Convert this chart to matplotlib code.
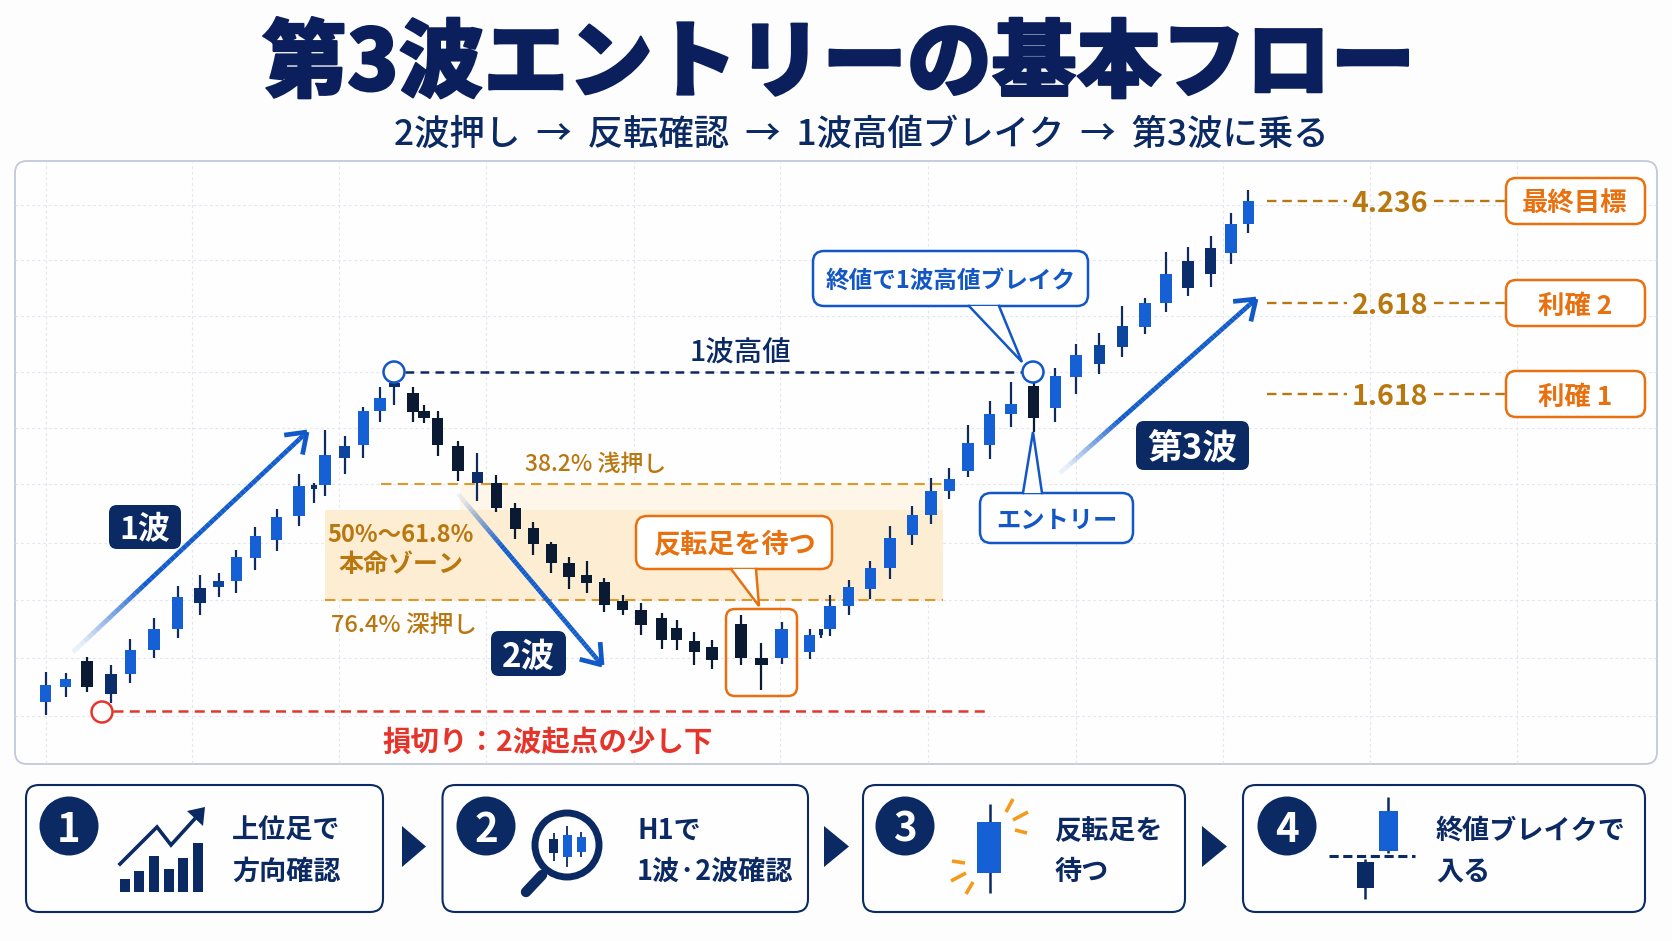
#!/usr/bin/env python3
import numpy as np
import matplotlib
matplotlib.use('Agg')
import matplotlib.pyplot as plt
from matplotlib.patches import FancyBboxPatch, Polygon, Circle, Rectangle
from matplotlib.collections import LineCollection
import matplotlib.patheffects as pe

plt.rcParams['font.family'] = ['Noto Sans CJK JP', 'DejaVu Sans']

candle_x = [45.7, 65.7, 87, 111, 130.3, 154, 177.7, 200, 218.7, 236.3, 255.3, 276.7, 299, 314, 325, 344.7,
            363.3, 380, 394.3, 413, 424, 437.7, 458, 477.3, 496.3, 515.3, 533.3, 551.3, 569, 586.7, 604.3,
            622.7, 641, 661.7, 676.7, 694.3, 712, 741, 761.3, 781.7, 809.7, 821.3, 830, 848.7, 870.3, 890,
            912.3, 931, 949.3, 968, 989.7, 1011, 1033.7, 1055.3, 1076, 1099.3, 1122.3, 1145, 1166, 1188,
            1210.7, 1231, 1248.3]
candle_high = [93.3, 92.3, 108, 100, 125.7, 147.3, 179, 190, 192.3, 215, 238.3, 255.7, 291, 281.7, 335, 329,
               357.7, 378.3, 383.3, 377.7, 360, 354.3, 324.3, 311.7, 289.7, 261.7, 243.3, 223, 208.3, 204.3, 187,
               169.7, 162.3, 152.3, 145, 132.7, 125, 150, 121.7, 142.7, 136.3, 136.3, 170.3, 185, 204.3, 239.3,
               259, 287, 297.3, 340.3, 363.7, 382.7, 388.3, 397.3, 421.3, 432, 459, 467.3, 513.3, 518.3,
               528.7, 552.3, 575]
candle_top = [80, 86, 104, 91, 115, 135.7, 167.7, 177.3, 184.3, 208, 228.7, 248, 279, 279.7, 310, 319.3,
              354.3, 366.7, 381.7, 371.7, 354.3, 347.3, 319.3, 293.3, 282.3, 256.7, 237, 220.7, 202.3, 189.7, 183.3,
              164.3, 155.3, 147, 137.3, 124, 118, 141, 106.7, 135.7, 130, 135.7, 159, 177.7, 197.3, 227.3,
              250.3, 274, 285.7, 322.3, 351, 361, 379, 389, 410, 420, 438.7, 462, 491, 503.7,
              517.3, 540.7, 564.3]
candle_bottom = [63.3, 77.7, 78.3, 70.7, 91, 115, 136, 161.7, 177.7, 184, 206.7, 225, 249, 276.3, 280, 306.7,
                 319.7, 354.3, 378.3, 353.3, 347.3, 319.7, 294.3, 282.3, 256.7, 235.7, 221, 202.3, 188.3, 182.3, 160,
                 155, 140, 124.7, 125.3, 113, 105.3, 106.7, 99.7, 106.7, 113, 130, 136.3, 159, 176.3, 197,
                 229.7, 250.3, 273.7, 294, 320, 351, 347.3, 357, 387.7, 401, 418, 438, 461.7, 477,
                 491.3, 511.7, 540.7]
candle_low = [50, 68.3, 73.3, 61.7, 81.7, 106.7, 127.3, 150, 167.7, 171.7, 195, 214.3, 239, 261.7, 269, 290.7,
              306.7, 343.3, 359.7, 343.3, 341.7, 309.3, 284.3, 264.3, 252.7, 225.7, 209.7, 191.7, 175.7, 172.3, 153,
              149.7, 130.3, 115.7, 115, 100, 95.7, 99.7, 75, 101, 105.7, 126.7, 129.3, 149.7, 165.7, 186.3,
              219.7, 241, 266.3, 288.3, 305.7, 338.3, 333.3, 343, 370.7, 390.7, 408.3, 430.7, 452.7, 469,
              478, 501, 532.3]
candle_kind = list('bbknbbbnmbbbbnbmbbnkkkknk' + 'kkkkkkkkkkkkkk' + 'bbnbbbbbbbbbbkbbmmbbnnbb')

# levels on the same price scale
wave1_high = 393
stop_level = 54
fib_382 = 281
fib_764 = 165
zone_inner_top = 255
target_levels = [564, 462, 371]
target_names = ['4.236', '2.618', '1.618']
target_tags = ['最終目標', '利確 2', '利確 1']

grid_x = [46, 192, 339, 486, 634, 780, 928, 1076, 1223, 1370, 1517]
grid_y = [560, 505, 449, 393, 337, 281, 222, 165, 107, 49]

step_texts = [('上位足で', '方向確認'), ('H1で', '1波·2波確認'), ('反転足を', '待つ'), ('終値ブレイクで', '入る')]
bar_icon = [13, 21, 36, 23, 34, 49]

NAVY = '#0b2a63'
TITLE = '#0a1f5c'
BLUE = '#1560d4'
BLACK = '#0b1a33'
ORANGE = '#e8700f'
GOLD = '#b9770f'
RED = '#e5352b'
kind_col = {'b': BLUE, 'm': '#0c469f', 'n': '#0c2d6b', 'k': BLACK}

fig = plt.figure(figsize=(16.72, 9.41), dpi=100, facecolor='#fdfdfe')

# pixel layers, one under the chart and one over it
under = fig.add_axes([0, 0, 1, 1], zorder=1)
under.set_xlim(0, 1672)
under.set_ylim(941, 0)
under.axis('off')

ax = fig.add_axes([14/1672, (941-765)/941, (1657-14)/1672, 605/941], zorder=2)
ax.set_xlim(14, 1657)
ax.set_ylim(0, 605)
ax.axis('off')

top = fig.add_axes([0, 0, 1, 1], zorder=3)
top.set_xlim(0, 1672)
top.set_ylim(941, 0)
top.axis('off')

under.add_patch(FancyBboxPatch((15, 161), 1642, 603, boxstyle='round,pad=0,rounding_size=12',
                               fc='#fefeff', ec='#c3c8d8', lw=1.3))

# grid
ax.hlines(grid_y, 15, 1656, color='#e3e6ee', lw=0.8, ls=(0, (2.5, 2.5)), zorder=1)
ax.vlines(grid_x, 2, 603, color='#e3e6ee', lw=0.8, ls=(0, (2.5, 2.5)), zorder=1)

# fib zone
ax.fill_between([460, 943], zone_inner_top, fib_382, color='#fef6e8', lw=0, zorder=2)
ax.fill_between([325, 943], fib_764, zone_inner_top, color='#fdedd2', lw=0, zorder=2)
ax.hlines(fib_382, 381, 943, color='#dd9a2b', lw=1.5, ls=(0, (5, 3)), zorder=3)
ax.hlines(fib_764, 325, 943, color='#dd9a2b', lw=1.5, ls=(0, (5, 3)), zorder=3)

# candles
for i in range(len(candle_x)):
    col = kind_col[candle_kind[i]]
    wick = BLACK if candle_kind[i] == 'k' else '#0f2a5c'
    w = 11.5
    if i == 13:
        w = 6
    if i == 41:
        w = 4
    if i in (37, 38, 39):
        w = 12.5
    ax.vlines(candle_x[i], candle_low[i], candle_high[i], color=wick, lw=1.6, zorder=4)
    ax.bar(candle_x[i], candle_top[i]-candle_bottom[i], bottom=candle_bottom[i], width=w, color=col, zorder=5)

# level lines
ax.hlines(wave1_high, 405, 1022, color=NAVY, lw=1.8, ls=(0, (3.5, 2.5)), zorder=6)
ax.hlines(stop_level, 113, 990, color=RED, lw=1.8, ls=(0, (4, 2.5)), zorder=6)
for lv in target_levels:
    ax.hlines(lv, 1267, 1347, color=GOLD, lw=1.7, ls=(0, (4, 2.5)), zorder=3)
    ax.hlines(lv, 1434, 1506, color=GOLD, lw=1.7, ls=(0, (4, 2.5)), zorder=3)


def grad_arrow(x0, y0, x1, y1, lw=3.4):
    n = 60
    t = np.linspace(0, 1, n+1)
    px = x0 + (x1-x0)*t
    py = y0 + (y1-y0)*t
    segs = [[(px[i], py[i]), (px[i+1], py[i+1])] for i in range(n)]
    alphas = np.clip(t[:-1]/0.3, 0.08, 1)
    cols = [(0.07, 0.36, 0.80, a) for a in alphas]
    top.add_collection(LineCollection(segs, colors=cols, linewidths=lw, capstyle='butt', zorder=5))
    ang = np.arctan2(y1-y0, x1-x0)
    for d in (0.62, -0.62):
        top.plot([x1, x1-23*np.cos(ang+d)], [y1, y1-23*np.sin(ang+d)], color='#1259c8', lw=lw, solid_capstyle='butt', zorder=5)


grad_arrow(73, 652, 307, 432)
grad_arrow(458, 494, 602, 665)
grad_arrow(1060, 473, 1256, 299)


def tag(x0, y0, x1, y1, s, fs):
    top.add_patch(FancyBboxPatch((x0, y0), x1-x0, y1-y0, boxstyle='round,pad=0,rounding_size=8', fc=NAVY, ec='none', zorder=7))
    top.text((x0+x1)/2, (y0+y1)/2, s, color='white', fontsize=fs, fontweight='bold', ha='center', va='center_baseline', zorder=8)


tag(109, 505, 181, 549, '1波', 23)
tag(491, 631, 566, 676, '2波', 24)
tag(1136, 421, 1249, 470, '第3波', 25)


def callout(x0, y0, x1, y1, base0, base1, apex, edge, s, fs, side='bottom'):
    top.add_patch(FancyBboxPatch((x0, y0), x1-x0, y1-y0, boxstyle='round,pad=0,rounding_size=11', fc='white', ec=edge, lw=1.8, zorder=6))
    yb = y1 if side == 'bottom' else y0
    top.add_patch(Polygon([(base0, yb), (base1, yb), apex], closed=True, fc='white', ec='none', zorder=7))
    top.plot([base0, apex[0], base1], [yb, apex[1], yb], color=edge, lw=1.8, zorder=7, solid_joinstyle='miter')
    top.text((x0+x1)/2, (y0+y1)/2, s, color=edge, fontsize=fs, fontweight='bold', ha='center', va='center_baseline', zorder=8)


# box round the reversal candles
ax_box = FancyBboxPatch((726, 609), 71, 87, boxstyle='round,pad=0,rounding_size=9', fc='none', ec=ORANGE, lw=1.8, zorder=6)
top.add_patch(ax_box)

callout(636, 516, 832, 569, 731, 756, (759, 606), ORANGE, '反転足を待つ', 19.5)
callout(813, 251, 1088, 306, 969, 999, (1022, 362), '#1257c5', '終値で1波高値ブレイク', 17)
callout(980, 493, 1133, 543, 1023, 1042, (1033, 432), '#1257c5', 'エントリー', 17.5, side='top')

# pivot circles
for cx, cy, c in [(394, 372, '#1257c5'), (1033, 372, '#1257c5'), (102, 712, RED)]:
    top.add_patch(Circle((cx, cy), 10.5, fc='white', ec=c, lw=1.8, zorder=9))

# level texts
top.text(741, 349, '1波高値', color=NAVY, fontsize=20.5, ha='center', va='center_baseline', fontweight='medium')
top.text(525, 462, '38.2% 浅押し', color=GOLD, fontsize=16.5, ha='left', va='center_baseline', fontweight='medium')
top.text(401, 533, '50%〜61.8%', color=GOLD, fontsize=17, ha='center', va='center_baseline', fontweight='bold')
top.text(401, 563, '本命ゾーン', color=GOLD, fontsize=18, ha='center', va='center_baseline', fontweight='bold')
top.text(331, 623, '76.4% 深押し', color=GOLD, fontsize=17, ha='left', va='center_baseline', fontweight='medium')
top.text(548, 740, '損切り：2波起点の少し下', color=RED, fontsize=20.5, ha='center', va='center_baseline', fontweight='bold')

for lv, name, t in zip(target_levels, target_names, target_tags):
    y = 765 - lv
    top.text(1390, y, name, color=GOLD, fontsize=20.5, ha='center', va='center_baseline', fontweight='bold')
    top.add_patch(FancyBboxPatch((1506, y-23), 139, 46, boxstyle='round,pad=0,rounding_size=10', fc='white', ec=ORANGE, lw=1.8, zorder=6))
    top.text(1575, y, t, color=ORANGE, fontsize=19, ha='center', va='center_baseline', fontweight='bold', zorder=7)

# title
top.text(839, 56, '第3波エントリーの基本フロー', color=TITLE, fontsize=61, fontweight='black', ha='center', va='center_baseline',
         path_effects=[pe.withStroke(linewidth=1.5, foreground=TITLE)])
top.text(861, 131, '2波押し  →  反転確認  →  1波高値ブレイク  →  第3波に乗る', color=NAVY, fontsize=25.5,
         fontweight='medium', ha='center', va='center_baseline')

# bottom steps
box_x = [(26, 383), (442.5, 808), (863, 1185), (1243, 1645)]
num_x = [69, 486, 905, 1287]
text_x = [232, 637, 1054, 1436]
for i in range(4):
    x0, x1 = box_x[i]
    under.add_patch(FancyBboxPatch((x0, 785), x1-x0, 127, boxstyle='round,pad=0,rounding_size=13', fc='#fefeff', ec=NAVY, lw=1.5))
    under.add_patch(Circle((num_x[i], 826), 29.5, fc=NAVY, ec='none'))
    under.text(num_x[i], 826, str(i+1), color='white', fontsize=29, fontweight='bold', ha='center', va='center_baseline')
    under.text(text_x[i], 828, step_texts[i][0], color=NAVY, fontsize=19.5, fontweight='bold', ha='left', va='center_baseline')
    under.text(text_x[i], 869, step_texts[i][1], color=NAVY, fontsize=19.5, fontweight='bold', ha='left', va='center_baseline')

for x0, x1 in [(402, 426), (824, 849), (1202, 1227)]:
    under.add_patch(Polygon([(x0, 826), (x1, 846.5), (x0, 867)], closed=True, fc=NAVY, ec='none'))

# step 1 icon
bx = [125, 139, 154, 169, 183, 198]
under.bar(bx, [-v for v in bar_icon], bottom=892, width=10, color=NAVY)
under.plot([120, 157, 171, 201], [864, 827, 845, 812], color=NAVY, lw=2.6, solid_joinstyle='miter')
under.add_patch(Polygon([(205, 807), (203, 826), (187, 811)], closed=True, fc=NAVY, ec='none'))

# step 2 icon
under.add_patch(Circle((567, 845), 32, fc='white', ec=NAVY, lw=5))
under.plot([542, 526], [875, 892], color=NAVY, lw=7.5, solid_capstyle='round')
for cx, b0, b1, w0, w1, c in [(553.6, 839, 853, 833, 861, NAVY), (567, 835, 857, 826, 867, BLUE), (581, 837, 852, 832, 857, BLUE)]:
    under.vlines(cx, w0, w1, color=NAVY, lw=1.3)
    under.add_patch(Rectangle((cx-4.5, b0), 9, b1-b0, fc=c, ec='none', zorder=3))

# step 3 icon
under.vlines(989.5, 804, 893, color=NAVY, lw=1.8)
under.add_patch(Rectangle((977, 822), 24, 51, fc=BLUE, ec='none', zorder=3))
for a, b, c, d in [(1006, 812, 1013, 799), (1013, 820, 1028, 812), (1015, 830, 1027, 833),
                   (952, 861, 965, 863), (951, 881, 966, 873), (966, 894, 973, 882)]:
    under.plot([a, c], [b, d], color='#f59a1b', lw=2.6, solid_capstyle='butt')

# step 4 icon
under.vlines(1388, 797, 853, color=NAVY, lw=1.8)
under.add_patch(Rectangle((1379, 811), 19, 40, fc=BLUE, ec='none', zorder=3))
under.plot([1329, 1415], [856, 856], color=NAVY, lw=2.2, ls=(0, (3, 1.5)), zorder=4)
under.vlines(1365, 859, 899, color=NAVY, lw=1.8)
under.add_patch(Rectangle((1356.5, 862), 17.5, 26, fc=NAVY, ec='none', zorder=3))

fig.savefig('out.png', dpi=100, facecolor=fig.get_facecolor())
